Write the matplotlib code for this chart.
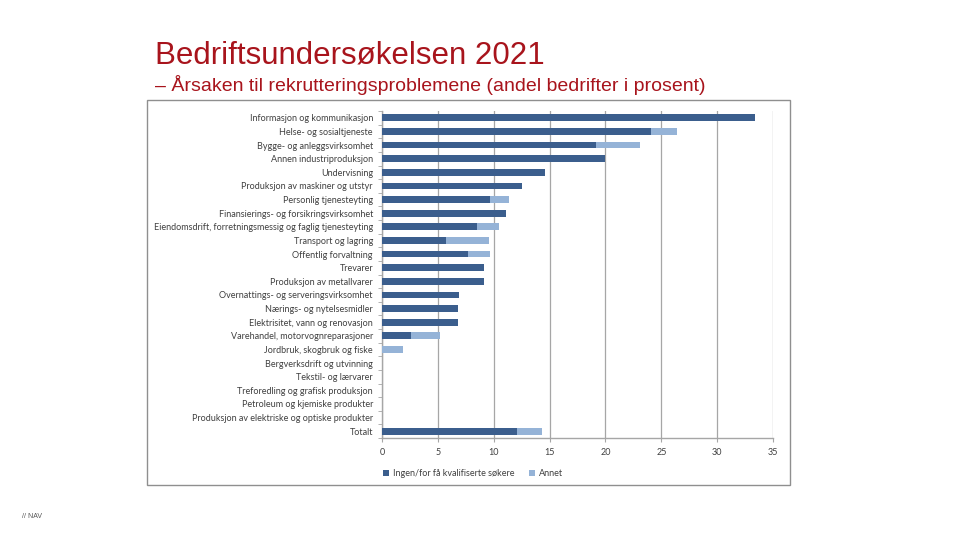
import matplotlib
matplotlib.use("Agg")
import matplotlib.pyplot as plt
from matplotlib.patches import Rectangle
import numpy as np

categories = [
    "Informasjon og kommunikasjon",
    "Helse- og sosialtjeneste",
    "Bygge- og anleggsvirksomhet",
    "Annen industriproduksjon",
    "Undervisning",
    "Produksjon av maskiner og utstyr",
    "Personlig tjenesteyting",
    "Finansierings- og forsikringsvirksomhet",
    "Eiendomsdrift, forretningsmessig og faglig tjenesteyting",
    "Transport og lagring",
    "Offentlig forvaltning",
    "Trevarer",
    "Produksjon av metallvarer",
    "Overnattings- og serveringsvirksomhet",
    "Nærings- og nytelsesmidler",
    "Elektrisitet, vann og renovasjon",
    "Varehandel, motorvognreparasjoner",
    "Jordbruk, skogbruk og fiske",
    "Bergverksdrift og utvinning",
    "Tekstil- og lærvarer",
    "Treforedling og grafisk produksjon",
    "Petroleum og kjemiske produkter",
    "Produksjon av elektriske og optiske produkter",
    "Totalt",
]
ingen = [33.4, 24.1, 19.2, 20.0, 14.6, 12.5, 9.7, 11.1, 8.5, 5.7, 7.7, 9.1, 9.1,
         6.9, 6.8, 6.8, 2.6, 0.0, 0.0, 0.0, 0.0, 0.0, 0.0, 12.1]
annet = [0.0, 2.3, 3.9, 0.0, 0.0, 0.0, 1.7, 0.0, 2.0, 3.9, 2.0, 0.0, 0.0,
         0.0, 0.0, 0.0, 2.6, 1.9, 0.0, 0.0, 0.0, 0.0, 0.0, 2.2]
series_names = ["Ingen/for få kvalifiserte søkere", "Annet"]
xticks = [0, 5, 10, 15, 20, 25, 30, 35]

title = "Bedriftsundersøkelsen 2021"
subtitle = "– Årsaken til rekrutteringsproblemene (andel bedrifter i prosent)"

DARK = "#3B5E8D"
LIGHT = "#95B3D7"
RED = "#A8141C"
GRID = "#A6A6A6"
TXT = "#404040"
FS = 6.45

fig = plt.figure(figsize=(9.6, 5.4), dpi=100)
fig.patch.set_facecolor("white")

# outer chart frame
fig.add_artist(Rectangle((147/960, 1-485/540), (790-147)/960, (485-100)/540,
                         transform=fig.transFigure, fill=False,
                         edgecolor="#8F8F8F", lw=1.0))

ax = fig.add_axes([382/960, 1-438/540, (773-382)/960, (438-111)/540])
y = np.arange(len(categories))
ax.barh(y, ingen, height=0.5, color=DARK, label=series_names[0], zorder=3)
ax.barh(y, annet, left=ingen, height=0.5, color=LIGHT, label=series_names[1], zorder=3)

ax.set_ylim(len(categories) - 0.5, -0.5)
ax.set_xlim(0, 35)
ax.set_xticks(xticks)
ax.set_xticklabels([str(t) for t in xticks])
ax.set_yticks(y)
ax.set_yticklabels(categories)
ax.set_yticks(np.arange(len(categories) + 1) - 0.5, minor=True)
ax.tick_params(axis="y", which="major", length=0, pad=6.5,
               labelsize=FS, labelcolor=TXT)
ax.tick_params(axis="y", which="minor", length=3, color=GRID, direction="out")
ax.tick_params(axis="x", length=3, color=GRID, labelsize=FS, labelcolor=TXT, pad=4)
for lab in ax.get_yticklabels() + ax.get_xticklabels():
    lab.set_family(["Lato", "DejaVu Sans"])

ax.grid(axis="x", color=GRID, lw=0.9, zorder=0)
for s in ["top", "right"]:
    ax.spines[s].set_visible(False)
for s in ["left", "bottom"]:
    ax.spines[s].set_color(GRID)
    ax.spines[s].set_linewidth(1.0)

leg = ax.legend(loc="upper left", bbox_to_anchor=(-0.018, -0.07), ncol=2,
                frameon=False, handlelength=0.7, handleheight=0.7,
                columnspacing=1.6, handletextpad=0.4,
                prop={"family": ["Lato", "DejaVu Sans"], "size": FS})
for t in leg.get_texts():
    t.set_color(TXT)

fig.text(155/960, 1-64/540, title, color=RED, fontsize=22.5,
         family=["Liberation Sans", "DejaVu Sans"], va="baseline")
fig.text(155/960, 1-91/540, subtitle, color=RED, fontsize=14,
         family=["Liberation Sans", "DejaVu Sans"], va="baseline")
fig.text(22/960, 1-518/540, "// NAV", color="#555555", fontsize=5,
         family=["Liberation Sans", "DejaVu Sans"], va="baseline")

fig.savefig("out.png", dpi=100, facecolor="white")
